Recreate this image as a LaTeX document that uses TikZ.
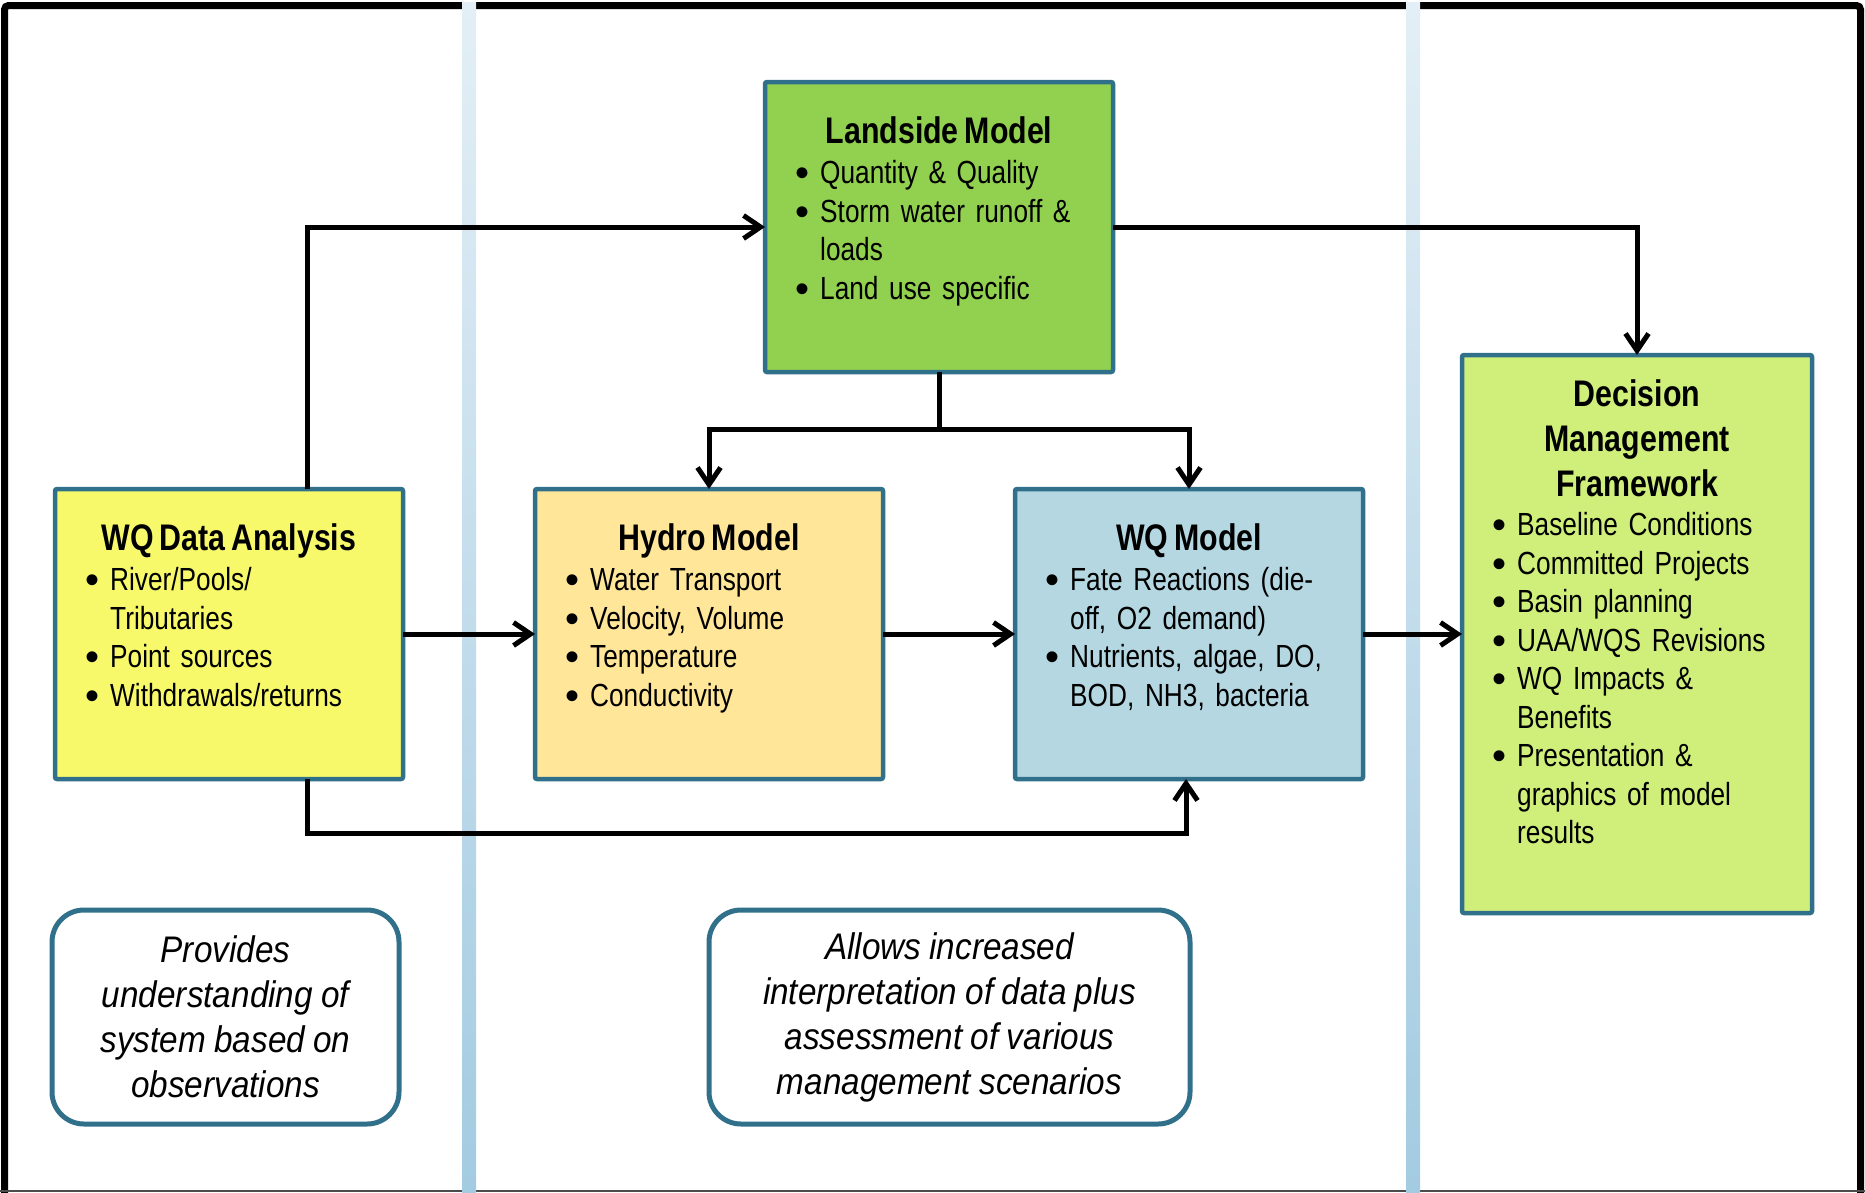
\documentclass[tikz,border=0pt]{standalone}
\usepackage{fontspec}
\setmainfont{Liberation Sans}[FakeStretch=0.82, WordSpace=0.7]
\newfontfamily\notefont{Liberation Sans}[FakeStretch=0.9, WordSpace=0.9]
\newfontfamily\dotfont{Liberation Sans}
\usetikzlibrary{arrows.meta,calc}

\definecolor{boxline}{HTML}{31708A}
\definecolor{landfill}{HTML}{92D050}
\definecolor{hydrofill}{HTML}{FFE699}
\definecolor{datafill}{HTML}{F7F96B}
\definecolor{wqfill}{HTML}{B4D7E2}
\definecolor{decfill}{HTML}{CFEF7A}
\definecolor{stripetop}{HTML}{E3EFF6}
\definecolor{stripebot}{HTML}{A3CBE2}

% bullet item with hanging indent; each item closes its own paragraph
\newcommand\bitem[1]{\hangindent=25pt\hangafter=1\noindent
  \makebox[25pt][l]{\raisebox{-3pt}{\dotfont\fontsize{40}{0}\selectfont\textbullet}}#1\par}

\tikzset{
  box/.style={draw=boxline, line width=4.5pt, rounded corners=2pt, inner sep=0pt,
    outer sep=0pt, anchor=north west, minimum width=348pt, minimum height=290pt},
  notebox/.style={draw=boxline, line width=5pt, rounded corners=32pt, fill=white,
    inner sep=0pt, outer sep=0pt, anchor=north west, minimum height=214pt},
  ttl/.style={font=\fontsize{37}{45}\selectfont\bfseries, inner sep=0pt, anchor=base, align=center},
  blist/.style={font=\fontsize{32}{38.5}\selectfont, inner sep=0pt, anchor=base west,
    text width=300pt, align=left},
  notetext/.style={font=\notefont\fontsize{37}{45}\selectfont\itshape, inner sep=0pt, align=center},
  wire/.style={line width=5pt, draw=black},
  conn/.style={wire, -{Straight Barb[length=17pt, width=23pt, line width=5pt]}},
}

\begin{document}
\begin{tikzpicture}[x=1pt, y=-1pt]
\useasboundingbox (0,0) rectangle (1865,1192);

% outer frame (open at the bottom edge)
\draw[line width=7pt, rounded corners=4pt] (4.5,1200) -- (4.5,5.5) -- (1860.5,5.5) -- (1860.5,1200);
\draw[line width=1.5pt, black!70] (0,1191) -- (1865,1191);

% column separators
\shade[top color=stripetop, bottom color=stripebot] (462,2) rectangle (476,1192);
\shade[top color=stripetop, bottom color=stripebot] (1406,2) rectangle (1420,1192);

% model boxes
\node[box, fill=datafill]  (data)  at (55,489)  {};
\node[box, fill=hydrofill] (hydro) at (535,489) {};
\node[box, fill=wqfill]    (wqm)   at (1015,489) {};
\node[box, fill=landfill]  (land)  at (765,82)  {};
\node[box, fill=decfill, minimum width=350pt, minimum height=558pt] (dec) at (1462,355) {};

% box titles
\node[ttl] (landT)  at ($(land.north)+(0,61.5)$)  {Landside Model};
\node[ttl] (dataT)  at ($(data.north)+(0,61.5)$)  {WQ Data Analysis};
\node[ttl] (hydroT) at ($(hydro.north)+(0,61.5)$) {Hydro Model};
\node[ttl] (wqmT)   at ($(wqm.north)+(0,61.5)$)   {WQ Model};
\node[ttl] (decT)   at ($(dec.north)+(0,141.5)$)  {Decision\\Management\\Framework};

% bullet lists
\node[blist] (landL) at ($(land.north west)+(30,101.5)$)
  {\bitem{Quantity \& Quality}\bitem{Storm water runoff \&\newline loads}\bitem{Land use specific}};
\node[blist] (dataL) at ($(data.north west)+(30,101.5)$)
  {\bitem{River/Pools/\newline Tributaries}\bitem{Point sources}\bitem{Withdrawals/returns}};
\node[blist] (hydroL) at ($(hydro.north west)+(30,101.5)$)
  {\bitem{Water Transport}\bitem{Velocity, Volume}\bitem{Temperature}\bitem{Conductivity}};
\node[blist] (wqmL) at ($(wqm.north west)+(30,101.5)$)
  {\bitem{Fate Reactions (die-\newline off, O2 demand)}\bitem{Nutrients, algae, DO,\newline BOD, NH3, bacteria}};
\node[blist] (decL) at ($(dec.north west)+(30,180.5)$)
  {\bitem{Baseline Conditions}\bitem{Committed Projects}\bitem{Basin planning}\bitem{UAA/WQS Revisions}\bitem{WQ Impacts \&\newline Benefits}\bitem{Presentation \&\newline graphics of model\newline results}};

% notes
\node[notebox, minimum width=347pt] (note1) at (52,910) {};
\node[notebox, minimum width=481pt] (note2) at (709,910) {};
\node[notetext] (note1T) at (note1.center) {Provides\\understanding of\\system based on\\observations};
\node[notetext] (note2T) at (note2.center) {Allows increased\\interpretation of data plus\\assessment of various\\management scenarios};

% connectors
\draw[conn] ($(data.north west)+(252,0)$) |- (land.west);
\draw[conn] (land.east) -| (dec.north);
\draw[wire] (land.south) -- ++(0,57) coordinate (split);
\draw[conn] (split) -| (hydro.north);
\draw[conn] (split) -| (wqm.north);
\draw[conn] (data.east) -- (hydro.west);
\draw[conn] (hydro.east) -- (wqm.west);
\draw[conn] (wqm.east) -- (dec.west |- wqm.east);
\draw[conn] ($(data.south west)+(252,0)$) -- ++(0,54) -| ($(wqm.south)+(-3,0)$);
\end{tikzpicture}
\end{document}
